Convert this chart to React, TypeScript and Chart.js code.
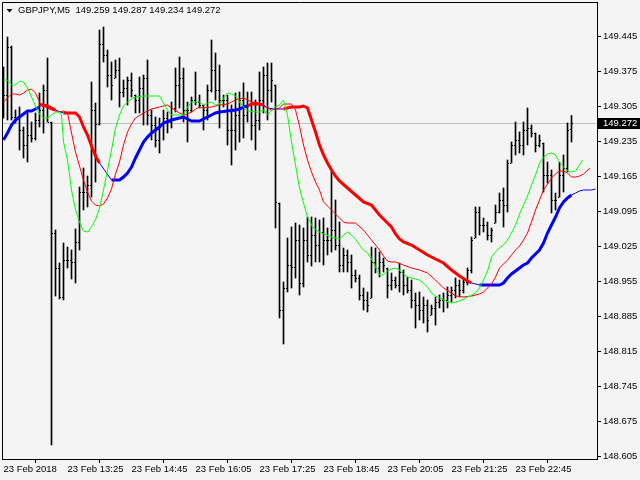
import React, { useEffect, useRef } from "react";
import { Chart, registerables } from "chart.js";

Chart.register(...registerables);

const FONT = "'Liberation Sans', Arial, sans-serif";
const FONT_SIZE = 9.5;
const SYMBOL = "GBPJPY,M5";

const timeTickIndex = [0, 16, 32, 48, 64, 80, 96, 112, 128];
const timeTickLabels = [
  "23 Feb 2018", "23 Feb 13:25", "23 Feb 14:45", "23 Feb 16:05", "23 Feb 17:25",
  "23 Feb 18:45", "23 Feb 20:05", "23 Feb 21:25", "23 Feb 22:45",
];
const priceTicks = [
  148.605, 148.675, 148.745, 148.815, 148.885, 148.955, 149.025,
  149.095, 149.165, 149.235, 149.305, 149.375, 149.445,
];

const opens = [
  149.378, 149.328, 149.424, 149.284, 149.282, 149.258, 149.228, 149.248, 149.242, 149.278,
  149.298, 149.338, 149.274, 149.052, 148.982, 148.924, 148.998, 148.998, 148.994, 149.034,
  149.134, 149.134, 149.148, 149.298, 149.270, 149.430, 149.408, 149.368, 149.362, 149.378,
  149.334, 149.342, 149.358, 149.328, 149.318, 149.342, 149.362, 149.288, 149.268, 149.238,
  149.268, 149.282, 149.274, 149.302, 149.348, 149.362, 149.298, 149.298, 149.318, 149.314,
  149.308, 149.298, 149.338, 149.378, 149.338, 149.318, 149.318, 149.258, 149.258, 149.288,
  149.318, 149.288, 149.308, 149.268, 149.278, 149.318, 149.368, 149.338, 149.348, 149.112,
  148.898, 148.942, 148.988, 148.984, 149.038, 148.952, 149.038, 149.008, 149.048, 149.028,
  149.054, 149.038, 149.038, 149.058, 149.028, 148.988, 149.008, 148.994, 148.968, 148.962,
  148.928, 148.918, 148.922, 148.994, 148.982, 148.994, 148.982, 148.948, 148.958, 148.948,
  148.974, 148.948, 148.938, 148.918, 148.908, 148.898, 148.908, 148.888, 148.902, 148.914,
  148.918, 148.918, 148.928, 148.938, 148.948, 148.938, 148.954, 148.978, 149.042, 149.094,
  149.068, 149.068, 149.048, 149.072, 149.094, 149.118, 149.108, 149.192, 149.228, 149.238,
  149.228, 149.258, 149.262, 149.252, 149.228, 149.232, 149.168, 149.168, 149.118, 149.124,
  149.168, 149.182, 149.259,
];
const highs = [
  149.384, 149.444, 149.426, 149.298, 149.304, 149.264, 149.294, 149.274, 149.292, 149.332,
  149.348, 149.402, 149.274, 149.058, 148.992, 149.032, 149.024, 149.018, 149.060, 149.144,
  149.182, 149.166, 149.354, 149.312, 149.458, 149.464, 149.418, 149.394, 149.398, 149.402,
  149.358, 149.364, 149.372, 149.328, 149.364, 149.368, 149.398, 149.298, 149.284, 149.282,
  149.298, 149.294, 149.314, 149.382, 149.404, 149.382, 149.314, 149.324, 149.374, 149.328,
  149.308, 149.348, 149.438, 149.412, 149.388, 149.328, 149.328, 149.308, 149.332, 149.334,
  149.352, 149.334, 149.334, 149.318, 149.374, 149.384, 149.392, 149.392, 149.348, 149.112,
  148.954, 149.042, 149.064, 149.072, 149.068, 149.062, 149.084, 149.084, 149.082, 149.078,
  149.082, 149.062, 149.178, 149.118, 149.074, 149.022, 149.018, 149.008, 148.978, 148.968,
  148.942, 148.934, 149.024, 149.022, 149.014, 149.002, 148.982, 148.972, 148.964, 148.992,
  148.978, 148.964, 148.958, 148.932, 148.934, 148.924, 148.918, 148.908, 148.924, 148.928,
  148.932, 148.944, 148.944, 148.962, 148.958, 148.962, 148.982, 149.044, 149.104, 149.104,
  149.082, 149.074, 149.062, 149.108, 149.132, 149.142, 149.198, 149.234, 149.274, 149.254,
  149.274, 149.302, 149.268, 149.252, 149.248, 149.232, 149.194, 149.178, 149.132, 149.194,
  149.208, 149.272, 149.287,
];
const lows = [
  149.282, 149.278, 149.278, 149.272, 149.218, 149.202, 149.194, 149.234, 149.238, 149.264,
  149.252, 149.274, 148.628, 148.926, 148.920, 148.918, 148.982, 148.960, 148.952, 149.018,
  149.098, 149.104, 149.124, 149.154, 149.268, 149.394, 149.344, 149.318, 149.362, 149.304,
  149.324, 149.308, 149.324, 149.292, 149.292, 149.268, 149.268, 149.238, 149.224, 149.212,
  149.238, 149.252, 149.262, 149.294, 149.302, 149.274, 149.234, 149.294, 149.308, 149.302,
  149.258, 149.278, 149.334, 149.318, 149.262, 149.304, 149.228, 149.188, 149.218, 149.234,
  149.242, 149.274, 149.238, 149.218, 149.258, 149.292, 149.278, 149.314, 149.062, 148.882,
  148.830, 148.934, 148.942, 148.962, 148.928, 148.944, 148.994, 148.986, 148.994, 148.994,
  148.988, 149.008, 149.014, 149.018, 148.974, 148.974, 148.974, 148.942, 148.954, 148.918,
  148.898, 148.894, 148.922, 148.972, 148.964, 148.974, 148.922, 148.938, 148.942, 148.934,
  148.928, 148.932, 148.902, 148.862, 148.878, 148.872, 148.854, 148.888, 148.868, 148.902,
  148.894, 148.902, 148.914, 148.922, 148.924, 148.932, 148.948, 148.972, 149.042, 149.048,
  149.054, 149.038, 149.034, 149.072, 149.092, 149.064, 149.094, 149.192, 149.208, 149.212,
  149.208, 149.228, 149.244, 149.214, 149.224, 149.134, 149.152, 149.092, 149.098, 149.124,
  149.134, 149.174, 149.234,
];
const closes = [
  149.328, 149.424, 149.284, 149.282, 149.258, 149.228, 149.248, 149.242, 149.278, 149.298,
  149.338, 149.274, 149.052, 148.982, 148.924, 148.998, 148.998, 148.994, 149.034, 149.134,
  149.134, 149.148, 149.298, 149.270, 149.430, 149.408, 149.368, 149.348, 149.378, 149.334,
  149.342, 149.358, 149.338, 149.318, 149.342, 149.362, 149.288, 149.268, 149.238, 149.268,
  149.282, 149.274, 149.302, 149.348, 149.362, 149.298, 149.298, 149.318, 149.314, 149.308,
  149.298, 149.338, 149.378, 149.338, 149.318, 149.318, 149.258, 149.258, 149.288, 149.318,
  149.288, 149.308, 149.268, 149.278, 149.318, 149.368, 149.338, 149.358, 149.114, 148.898,
  148.942, 148.988, 148.984, 149.038, 148.952, 149.038, 149.008, 149.048, 149.028, 149.054,
  149.038, 149.038, 149.058, 149.028, 148.988, 149.008, 148.994, 148.968, 148.962, 148.928,
  148.918, 148.908, 148.994, 148.982, 148.994, 148.988, 148.948, 148.958, 148.948, 148.974,
  148.948, 148.938, 148.918, 148.908, 148.898, 148.908, 148.878, 148.902, 148.914, 148.918,
  148.918, 148.928, 148.938, 148.948, 148.938, 148.954, 148.978, 149.038, 149.094, 149.068,
  149.068, 149.048, 149.058, 149.094, 149.118, 149.108, 149.192, 149.228, 149.238, 149.228,
  149.258, 149.262, 149.252, 149.228, 149.238, 149.168, 149.168, 149.118, 149.118, 149.168,
  149.182, 149.258, 149.272,
];

// fast MA (green), sampled at bar indices
const greenMA: [number, number][] = [
  [0, 149.358], [1, 149.358], [2, 149.348], [3, 149.348], [4, 149.356], [5, 149.354],
  [6, 149.342], [7, 149.324], [8, 149.306], [9, 149.290], [10, 149.282], [11, 149.282],
  [12, 149.288], [13, 149.294], [14, 149.294], [14.5, 149.288], [15, 149.234], [16, 149.198],
  [17, 149.138], [18, 149.098], [19, 149.074], [20, 149.056], [21, 149.054], [22, 149.064],
  [23, 149.078], [24, 149.102], [25, 149.138], [26, 149.178], [27, 149.218], [28, 149.262],
  [29, 149.288], [30, 149.306], [31, 149.314], [32, 149.320], [33, 149.324], [35, 149.326],
  [38, 149.326], [39, 149.326], [40, 149.312], [41, 149.298], [42, 149.288], [44, 149.288],
  [45, 149.288], [46, 149.304], [47, 149.314], [49, 149.314], [50, 149.308], [51, 149.312],
  [52, 149.314], [53, 149.308], [54, 149.310], [55, 149.322], [56, 149.332], [57, 149.330],
  [58, 149.326], [59, 149.314], [60, 149.304], [61, 149.296], [63, 149.294], [64, 149.294],
  [65, 149.298], [66, 149.288], [67, 149.298], [68, 149.304], [69, 149.308], [70, 149.318],
  [71, 149.288], [72, 149.234], [73, 149.188], [74, 149.142], [75, 149.112], [76, 149.084],
  [77, 149.068], [78, 149.058], [80, 149.050], [82, 149.044], [84, 149.040], [85, 149.048],
  [86, 149.054], [87, 149.048], [88, 149.040], [89, 149.028], [90, 149.018], [91, 149.012],
  [92, 149.000], [93, 148.984], [94, 148.968], [95, 148.968], [96, 148.976], [97, 148.980],
  [98, 148.982], [99, 148.978], [100, 148.970], [101, 148.964], [102, 148.962], [104, 148.958],
  [105, 148.952], [106, 148.944], [107, 148.932], [108, 148.926], [109, 148.922], [110, 148.918],
  [112, 148.912], [113, 148.914], [114, 148.916], [115, 148.920], [116, 148.924], [117, 148.928],
  [118, 148.932], [119, 148.942], [120, 148.958], [121, 148.976], [122, 149.004], [123, 149.014],
  [124, 149.022], [125, 149.028], [126, 149.038], [127, 149.052], [128, 149.068], [129, 149.090],
  [130, 149.108], [131, 149.126], [132, 149.148], [133, 149.168], [134, 149.192], [135, 149.204],
  [136, 149.210], [137, 149.212], [138, 149.208], [139, 149.194], [140, 149.184], [141, 149.176],
  [142, 149.174], [143, 149.176], [144, 149.188], [144.75, 149.198],
];

// medium MA (thin red)
const redMA: [number, number][] = [
  [0, 149.314], [1, 149.322], [2, 149.330], [3, 149.330], [4, 149.328], [5, 149.332],
  [6, 149.338], [7, 149.340], [8, 149.332], [9, 149.314], [10, 149.306], [11, 149.302],
  [12, 149.298], [13, 149.296], [14, 149.294], [15, 149.296], [16, 149.292], [17, 149.252],
  [18, 149.214], [19, 149.186], [20, 149.158], [21, 149.134], [22, 149.116], [23, 149.108],
  [24, 149.106], [25, 149.110], [26, 149.122], [27, 149.140], [28, 149.170], [29, 149.194],
  [30, 149.228], [31, 149.254], [32, 149.270], [33, 149.282], [35, 149.292], [37, 149.300],
  [39, 149.304], [41, 149.308], [42, 149.302], [44, 149.292], [45, 149.288], [46, 149.290],
  [47, 149.294], [48, 149.300], [49, 149.304], [50, 149.302], [52, 149.304], [54, 149.308],
  [56, 149.310], [57, 149.314], [58, 149.318], [60, 149.322], [62, 149.314], [64, 149.312],
  [65, 149.306], [67, 149.298], [69, 149.302], [70, 149.310], [72, 149.310], [73, 149.298],
  [74, 149.266], [75, 149.228], [76, 149.198], [77, 149.174], [78, 149.154], [79, 149.138],
  [80, 149.114], [82, 149.098], [84, 149.082], [85, 149.074], [86, 149.072], [88, 149.072],
  [90, 149.058], [92, 149.038], [94, 149.018], [95, 149.006], [96, 148.996], [97, 148.994],
  [98, 148.994], [100, 148.988], [102, 148.982], [104, 148.978], [106, 148.972], [108, 148.958],
  [110, 148.942], [112, 148.932], [113, 148.926], [115, 148.924], [117, 148.926], [119, 148.930],
  [120, 148.934], [121, 148.942], [122, 148.950], [123, 148.964], [124, 148.982], [125, 148.990],
  [126, 148.998], [127, 149.008], [128, 149.018], [129, 149.026], [130, 149.038], [131, 149.052],
  [132, 149.074], [133, 149.098], [134, 149.118], [135, 149.138], [136, 149.150], [137, 149.162],
  [138, 149.170], [139, 149.176], [140, 149.176], [141, 149.172], [142, 149.164], [143, 149.164],
  [144, 149.166], [145, 149.170], [146.6, 149.182],
];

// slow trend MA: falling parts (thick red), rising parts (thick blue), joins (thin blue)
const trendDown: [number, number | null][] = [
  [9, 149.308], [10, 149.308], [11, 149.306], [12, 149.302], [13, 149.298], [13, null],
  [15, 149.292], [16, 149.292], [17, 149.292], [18, 149.292], [19, 149.284], [20, 149.264],
  [21, 149.248], [22, 149.226], [23, 149.206], [24, 149.192], [24, null],
  [61, 149.306], [62, 149.310], [63, 149.310], [64, 149.310], [65, 149.308], [65, null],
  [70, 149.300], [71, 149.302], [72, 149.304], [73, 149.304], [74, 149.304], [75, 149.306],
  [76, 149.302], [77, 149.278], [78, 149.254], [79, 149.228], [80, 149.208], [81, 149.192],
  [82, 149.178], [83, 149.166], [84, 149.156], [86, 149.142], [88, 149.128], [90, 149.114],
  [92, 149.108], [94, 149.088], [96, 149.072], [97, 149.064], [98, 149.050], [99, 149.040],
  [100, 149.034], [102, 149.028], [104, 149.018], [106, 149.008], [108, 149.000], [110, 148.992],
  [112, 148.978], [114, 148.966], [116, 148.956], [117, 148.952],
];
const trendUp: [number, number | null][] = [
  [0, 149.238], [1, 149.252], [2, 149.268], [3, 149.278], [4, 149.284], [5, 149.290],
  [6, 149.296], [7, 149.296], [8, 149.300], [9, 149.304], [9, null],
  [27, 149.158], [28, 149.158], [29, 149.158], [30, 149.164], [31, 149.172], [32, 149.184],
  [33, 149.202], [34, 149.218], [35, 149.234], [36, 149.244], [37, 149.252], [38, 149.258],
  [39, 149.264], [40, 149.272], [42, 149.278], [44, 149.282], [45, 149.284], [46, 149.280],
  [47, 149.276], [49, 149.276], [50, 149.280], [51, 149.284], [52, 149.288], [53, 149.292],
  [54, 149.294], [56, 149.296], [58, 149.298], [59, 149.300], [60, 149.304], [61, 149.306], [61, null],
  [119, 148.948], [121, 148.948], [124, 148.948], [125, 148.952], [126, 148.962], [127, 148.970],
  [128, 148.976], [129, 148.982], [130, 148.988], [131, 148.992], [132, 149.002], [133, 149.010],
  [134, 149.018], [135, 149.032], [136, 149.052], [137, 149.068], [138, 149.084], [139, 149.102],
  [140, 149.114], [141, 149.122], [142, 149.128],
];
const trendJoin: [number, number | null][] = [
  [13, 149.298], [15, 149.292], [15, null],
  [24, 149.192], [27, 149.158], [27, null],
  [65, 149.308], [66, 149.302], [68, 149.300], [70, 149.300], [70, null],
  [117, 148.952], [119, 148.948], [119, null],
  [142, 149.128], [143, 149.132], [144, 149.136], [145, 149.138], [147, 149.138], [148, 149.140],
];

const toXY = (arr: [number, number | null][]) => arr.map(([x, y]) => ({ x, y }));

function makeTick(px: number): HTMLCanvasElement {
  const c = document.createElement("canvas");
  c.width = 3;
  c.height = 1;
  const g = c.getContext("2d")!;
  g.fillStyle = "#000";
  g.fillRect(px, 0, 1, 1);
  return c;
}

const framePlugin = {
  id: "frame",
  beforeDatasetsDraw(chart: any) {
    const { ctx, chartArea } = chart;
    const y = chart.scales.y;
    const last = closes[closes.length - 1];
    const py = Math.round(y.getPixelForValue(last)) + 0.5;
    ctx.save();
    ctx.strokeStyle = "#c0c0c0";
    ctx.lineWidth = 1;
    ctx.beginPath();
    ctx.moveTo(chartArea.left, py);
    ctx.lineTo(chartArea.right, py);
    ctx.stroke();
    ctx.restore();
  },
  afterDraw(chart: any) {
    const { ctx, chartArea } = chart;
    ctx.save();
    ctx.strokeStyle = "#000";
    ctx.lineWidth = 1;
    ctx.beginPath();
    ctx.moveTo(chartArea.left + 0.5, chartArea.bottom);
    ctx.lineTo(chartArea.left + 0.5, chartArea.top + 0.5);
    ctx.lineTo(chartArea.right, chartArea.top + 0.5);
    ctx.stroke();

    // current price label on the axis
    const y = chart.scales.y;
    const last = closes[closes.length - 1];
    const py = Math.round(y.getPixelForValue(last));
    ctx.fillStyle = "#000";
    ctx.fillRect(chartArea.right + 1, py - 5, 640 - chartArea.right - 1, 11);
    ctx.fillStyle = "#fff";
    ctx.font = `${FONT_SIZE}px ${FONT}`;
    ctx.textBaseline = "middle";
    ctx.textAlign = "left";
    ctx.fillText(last.toFixed(3), chartArea.right + 6, py + 0.5);

    // title
    const n = closes.length - 1;
    ctx.fillStyle = "#000";
    ctx.beginPath();
    ctx.moveTo(6.5, 9);
    ctx.lineTo(12.5, 9);
    ctx.lineTo(9.5, 12.5);
    ctx.closePath();
    ctx.fill();
    const title = `${SYMBOL}  ${opens[n].toFixed(3)} ${highs[n].toFixed(3)} ${lows[n].toFixed(3)} ${closes[n].toFixed(3)}`;
    ctx.fillText(title, 18, 10.5);
    ctx.restore();
  },
};

export default function App() {
  const ref = useRef<HTMLCanvasElement>(null);
  useEffect(() => {
    const canvas = ref.current!;
    const openImg = makeTick(0);
    const closeImg = makeTick(2);
    const chart = new Chart(canvas, {
      type: "line",
      data: {
        datasets: [
          {
            type: "line", label: "MA fast", data: toXY(greenMA), borderColor: "#00ff00",
            borderWidth: 1, pointRadius: 0, tension: 0, order: 1,
          },
          {
            type: "line", label: "MA medium", data: toXY(redMA), borderColor: "#ff0000",
            borderWidth: 1, pointRadius: 0, tension: 0, order: 2,
          },
          {
            type: "line", label: "Trend join", data: toXY(trendJoin), borderColor: "#0000ff",
            borderWidth: 1, pointRadius: 0, tension: 0, spanGaps: false, order: 3,
          },
          {
            type: "line", label: "Trend up", data: toXY(trendUp), borderColor: "#0000ff",
            borderWidth: 3, pointRadius: 0, tension: 0, spanGaps: false, order: 3,
          },
          {
            type: "line", label: "Trend down", data: toXY(trendDown), borderColor: "#ff0000",
            borderWidth: 3, pointRadius: 0, tension: 0, spanGaps: false, order: 3,
          },
          {
            type: "line", label: "Open", data: opens.map((v, i) => ({ x: i, y: v })),
            showLine: false, pointStyle: openImg as any, pointRadius: 1, order: 8,
          },
          {
            type: "line", label: "Close", data: closes.map((v, i) => ({ x: i, y: v })),
            showLine: false, pointStyle: closeImg as any, pointRadius: 1, order: 8,
          },
          {
            type: "bar", label: "High-Low", data: highs.map((h, i) => ({ x: i, y: [lows[i], h] })) as any,
            backgroundColor: "#000", borderWidth: 0, barThickness: 1, order: 9,
          },
        ] as any,
      },
      options: {
        responsive: false,
        animation: false,
        devicePixelRatio: 1,
        events: [],
        layout: { autoPadding: false, padding: { left: 2, top: 2, right: 0, bottom: 0 } },
        plugins: { legend: { display: false }, tooltip: { enabled: false }, title: { display: false } },
        scales: {
          x: {
            type: "linear",
            min: -0.375,
            max: 148.375,
            offset: false,
            border: { display: true, color: "#000", width: 1 },
            grid: { drawOnChartArea: false, drawTicks: true, tickLength: 4, tickColor: "#000" },
            ticks: {
              autoSkip: false, maxRotation: 0, minRotation: 0, align: "start", padding: 1,
              color: "#000", font: { family: FONT, size: FONT_SIZE },
              callback: (v: any) => {
                const k = timeTickIndex.indexOf(Number(v));
                return k >= 0 ? timeTickLabels[k] : "";
              },
            },
            afterBuildTicks: (s: any) => { s.ticks = timeTickIndex.map((v) => ({ value: v })); },
            afterFit: (s: any) => { s.height = 21; s.paddingLeft = 0; s.paddingRight = 0; },
          },
          y: {
            type: "linear",
            position: "right",
            min: 148.600,
            max: 149.514,
            border: { display: true, color: "#000", width: 1 },
            grid: { drawOnChartArea: false, drawTicks: true, tickLength: 4, tickColor: "#000" },
            ticks: {
              autoSkip: false, padding: 2, color: "#000", font: { family: FONT, size: FONT_SIZE },
              callback: (v: any) => Number(v).toFixed(3),
            },
            afterBuildTicks: (s: any) => { s.ticks = priceTicks.map((v) => ({ value: v })); },
            afterFit: (s: any) => { s.width = 43; s.paddingTop = 0; s.paddingBottom = 0; },
          },
        },
      } as any,
      plugins: [framePlugin],
    });
    return () => chart.destroy();
  }, []);
  return (
    <div style={{ position: "fixed", left: 0, top: 0, width: 640, height: 480, background: "#f4f4f4" }}>
      <canvas ref={ref} width={640} height={480} style={{ display: "block", width: 640, height: 480 }} />
    </div>
  );
}
